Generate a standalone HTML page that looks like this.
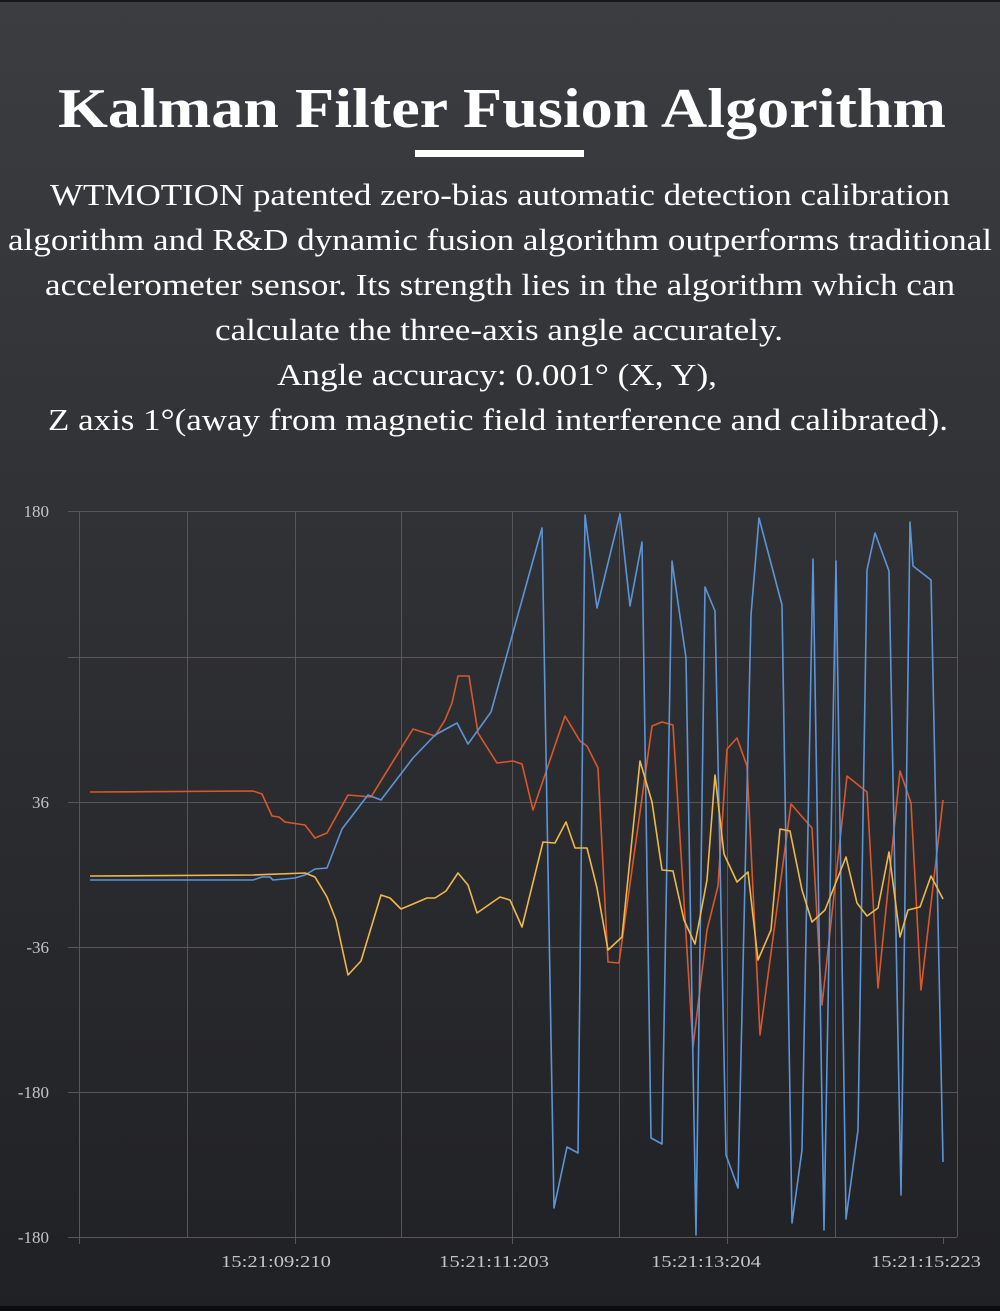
<!DOCTYPE html>
<html><head><meta charset="utf-8"><style>
html,body{margin:0;padding:0;width:1000px;height:1311px;overflow:hidden;background:#25262a;}
svg{display:block}
</style></head><body>
<svg width="1000" height="1311" viewBox="0 0 1000 1311" xmlns="http://www.w3.org/2000/svg">
<defs>
<linearGradient id="bg" x1="0" y1="0" x2="0" y2="1">
<stop offset="0" stop-color="#3b3d41"/>
<stop offset="0.45" stop-color="#2f3034"/>
<stop offset="1" stop-color="#202124"/>
</linearGradient>
</defs>
<rect width="1000" height="1311" fill="url(#bg)"/>
<rect width="1000" height="2" fill="#15171a"/>
<rect y="1306" width="1000" height="5" fill="#0c0c0e"/>
<g font-family="Liberation Serif, serif" fill="#ffffff" text-anchor="middle">
<text x="502" y="127" font-size="56" font-weight="bold" textLength="888" lengthAdjust="spacingAndGlyphs">Kalman Filter Fusion Algorithm</text>
<rect x="415" y="150" width="169" height="7" fill="#ffffff"/>
<g font-size="31">
<text x="500" y="205" textLength="900" lengthAdjust="spacingAndGlyphs">WTMOTION patented zero-bias automatic detection calibration</text>
<text x="500" y="250" textLength="984" lengthAdjust="spacingAndGlyphs">algorithm and R&amp;D dynamic fusion algorithm outperforms traditional</text>
<text x="500" y="295" textLength="910" lengthAdjust="spacingAndGlyphs">accelerometer sensor. Its strength lies in the algorithm which can</text>
<text x="499" y="340" textLength="568" lengthAdjust="spacingAndGlyphs">calculate the three-axis angle accurately.</text>
<text x="497" y="385" textLength="440" lengthAdjust="spacingAndGlyphs">Angle accuracy: 0.001° (X, Y),</text>
<text x="498" y="430" textLength="900" lengthAdjust="spacingAndGlyphs">Z axis 1°(away from magnetic field interference and calibrated).</text>
</g>
</g>
<g stroke="#55575b" stroke-width="1" fill="none">
<path d="M68 511.5H957M68 657.5H957M68 802.5H957M68 947.5H957M68 1092.5H957M68 1237.5H957"/>
<path d="M79.5 511V1244M187.5 511V1237M295.5 511V1244M401.5 511V1237M512.5 511V1244M619.5 511V1237M727.5 511V1244M835.5 511V1237M957.5 511V1237M943.5 1237V1244"/>
</g>
<g font-family="Liberation Serif, serif" fill="#c4c4c4" font-size="17">
<text x="49" y="517" text-anchor="end">180</text>
<text x="49" y="808" text-anchor="end">36</text>
<text x="49" y="953" text-anchor="end">-36</text>
<text x="49" y="1098" text-anchor="end">-180</text>
<text x="49" y="1243" text-anchor="end">-180</text>
<text x="276" y="1267" text-anchor="middle" textLength="110" lengthAdjust="spacingAndGlyphs">15:21:09:210</text>
<text x="494" y="1267" text-anchor="middle" textLength="110" lengthAdjust="spacingAndGlyphs">15:21:11:203</text>
<text x="706" y="1267" text-anchor="middle" textLength="110" lengthAdjust="spacingAndGlyphs">15:21:13:204</text>
<text x="926" y="1267" text-anchor="middle" textLength="110" lengthAdjust="spacingAndGlyphs">15:21:15:223</text>
</g>
<g fill="none" stroke-width="1.6" stroke-linejoin="round">
<polyline stroke="#d9582b" points="90,792 253,791 262,794 272,816 279,817 285,822 305,825 315,838 327,833 348,795 371,797 413,729 435,736 445,720 452,703 458,676 469,676 478,733 497,763 513,761 522,764 533,810 565,716 580,741 587,746 598,768 608,962 619,963 652,726 662,722 673,725 693,1047 707,930 718,886 727,749 737,738 747,766 760,1035 791,804 812,828 822,1005 847,776 867,792 878,988 900,771 911,803 921,990 943,800"/>
<polyline stroke="#5b95d8" points="90,880 253,880 262,877 270,877 273,880 295,878 305,875 315,869 327,868 342,829 368,795 381,800 413,758 435,735 457,723 468,744 491,712 542,528 554,1208 567,1147 578,1153 585,515 597,608 620,514 630,606 642,542 651,1138 662,1144 672,561 686,658 696,1235 705,587 715,611 726,1155 738,1188 751,615 759,518 782,605 792,1223 802,1150 813,559 824,1230 836,561 846,1219 858,1130 867,570 875,533 889,571 901,1195 910,522 913,566 931,580 943,1162"/>
<polyline stroke="#efb84c" points="90,876 253,875 305,873 315,877 327,897 336,920 348,975 361,961 381,895 390,898 401,909 413,904 427,898 435,898 446,891 458,873 468,885 477,913 500,897 510,900 522,927 543,842 555,843 566,822 575,848 587,848 597,888 608,950 622,937 640,761 652,802 662,870 673,871 684,920 695,944 707,880 715,775 724,854 737,882 748,872 758,960 771,930 780,829 790,831 802,890 812,922 825,910 846,857 857,903 867,916 878,908 889,852 900,937 908,910 920,907 931,876 943,899"/>
</g>
</svg>
</body></html>
